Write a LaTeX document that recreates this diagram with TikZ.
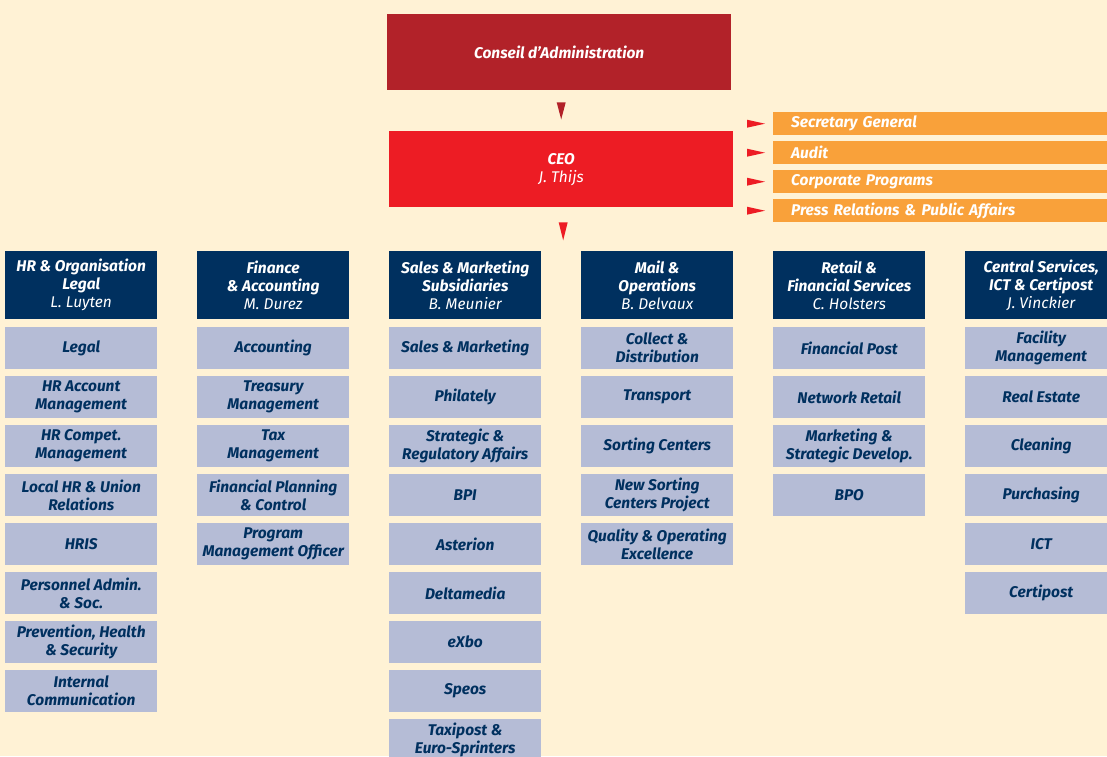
\documentclass[tikz,border=0pt]{standalone}
\usepackage{fontspec}
\setmainfont{Fira Sans}
\usetikzlibrary{calc}

\definecolor{bgcream}{HTML}{FFF2D5}
\definecolor{boardred}{HTML}{B22229}
\definecolor{ceored}{HTML}{ED1C24}
\definecolor{orangebar}{HTML}{F9A13A}
\definecolor{navy}{HTML}{00305F}
\definecolor{lightblue}{HTML}{B5BCD6}

\tikzset{
  boxfont/.style={font=\bfseries\itshape\fontsize{15.5}{18}\selectfont},
  topbox/.style={boxfont, text=white, anchor=north west, align=center,
    minimum width=344pt, minimum height=76pt, inner sep=0pt},
  headbox/.style={boxfont, fill=navy, text=white, anchor=north west, align=center,
    minimum width=152pt, minimum height=68pt, inner sep=0pt},
  subbox/.style={boxfont, fill=lightblue, text=navy, anchor=north west, align=center,
    minimum width=152pt, minimum height=42pt, inner sep=0pt},
  sidebar/.style={boxfont, fill=orangebar, text=white, anchor=north west, align=left,
    minimum height=23pt, text width=304pt, inner xsep=18pt, inner ysep=0pt}
}

\begin{document}
\begin{tikzpicture}[x=1pt, y=-1pt]
    \fill[bgcream] (0,0) rectangle (1107,756);
    \useasboundingbox (0,0) rectangle (1107,756);
    \clip (0,0) rectangle (1107,756);

    % top of the chart
    \node[topbox, fill=boardred] (board) at (387,14) {Conseil d’Administration};
    \node[topbox, fill=ceored] (ceo) at (389,131) {CEO\\{\mdseries J. Thijs}};

    \foreach \i/\txt in {0/Secretary General, 1/Audit, 2/Corporate Programs,
                          3/Press Relations \& Public Affairs}
        \node[sidebar] (side\i) at (773,{112+29*\i}) {\txt};

    % arrow tips between the boxes
    \fill[boardred] ($(board.south)+(-2.5,12)$) -- ++(9,0) -- ++(-4.5,17) -- cycle;
    \fill[ceored] ($(ceo.south)+(-2.5,15)$) -- ++(9,0) -- ++(-4.5,18) -- cycle;
    \foreach \i in {0,...,3}
        \fill[ceored] ($(side\i.west)+(-26,-4)$) -- ++(0,8) -- ++(18,-4) -- cycle;

    % division heads
    \foreach \c/\title/\who in {1/{HR \& Organisation\\Legal}/L. Luyten,
                                2/{Finance\\\& Accounting}/M. Durez,
                                3/{Sales \& Marketing\\Subsidiaries}/B. Meunier,
                                4/{Mail \&\\Operations}/B. Delvaux,
                                5/{Retail \&\\Financial Services}/C. Holsters,
                                6/{Central Services,\\ICT \& Certipost}/J. Vinckier}
        \node[headbox] (head\c) at ({5+192*(\c-1)},251) {\title\\{\mdseries \who}};

    % departments, one column per head
    \foreach \i/\txt in {0/Legal, 1/{HR Account\\Management}, 2/{HR Compet.\\Management},
                         3/{Local HR \& Union\\Relations}, 4/HRIS, 5/{Personnel Admin.\\\& Soc.},
                         6/{Prevention, Health\\\& Security}, 7/{Internal\\Communication}}
        \node[subbox] (hr\i) at (5,{327+49*\i}) {\txt};

    \foreach \i/\txt in {0/Accounting, 1/{Treasury\\Management}, 2/{Tax\\Management},
                         3/{Financial Planning\\\& Control}, 4/{Program\\Management Officer}}
        \node[subbox] (fin\i) at (197,{327+49*\i}) {\txt};

    \foreach \i/\txt in {0/Sales \& Marketing, 1/Philately, 2/{Strategic \&\\Regulatory Affairs},
                         3/BPI, 4/Asterion, 5/Deltamedia, 6/eXbo, 7/Speos,
                         8/{Taxipost \&\\Euro-Sprinters}}
        \node[subbox] (sales\i) at (389,{327+49*\i}) {\txt};

    \foreach \i/\txt in {0/{Collect \&\\Distribution}, 1/Transport, 2/Sorting Centers,
                         3/{New Sorting\\Centers Project}, 4/{Quality \& Operating\\Excellence}}
        \node[subbox] (mail\i) at (581,{327+49*\i}) {\txt};

    \foreach \i/\txt in {0/Financial Post, 1/Network Retail,
                         2/{Marketing \&\\Strategic Develop.}, 3/BPO}
        \node[subbox] (retail\i) at (773,{327+49*\i}) {\txt};

    \foreach \i/\txt in {0/{Facility\\Management}, 1/Real Estate, 2/Cleaning,
                         3/Purchasing, 4/ICT, 5/Certipost}
        \node[subbox] (central\i) at (965,{327+49*\i}) {\txt};
\end{tikzpicture}
\end{document}
